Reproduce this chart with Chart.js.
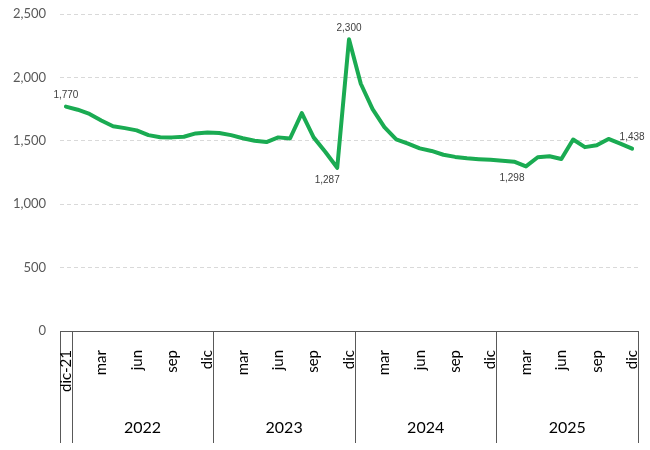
<!DOCTYPE html>
<html>
<head>
<meta charset="utf-8">
<script src="https://cdn.jsdelivr.net/npm/chart.js@4.4.0/dist/chart.umd.min.js"></script>
<style>
  html, body { margin: 0; padding: 0; background: #fff; }
  #wrap { width: 650px; height: 450px; }
</style>
</head>
<body>
<div id="wrap"><canvas id="chart"></canvas></div>
<script>
// categories
const monthNames = ['ene', 'feb', 'mar', 'abr', 'may', 'jun', 'jul', 'ago', 'sep', 'oct', 'nov', 'dic'];
const years = ['2022', '2023', '2024', '2025'];
const shownMonths = ['mar', 'jun', 'sep', 'dic'];
const firstLabel = 'dic-21';

// series values (monthly, dic-21 .. dic-25)
const values = [
    1770,
    1745, 1712, 1660, 1615, 1600, 1582, 1545, 1528, 1527, 1532, 1558, 1565,
    1562, 1545, 1520, 1500, 1490, 1527, 1518, 1718, 1527, 1412, 1287, 2300,
    1950, 1750, 1608, 1512, 1478, 1440, 1420, 1390, 1373, 1362, 1355, 1350,
    1343, 1335, 1298, 1370, 1378, 1356, 1510, 1450, 1465, 1515, 1478, 1438
];

// y ticks
const yTicks = [0, 500, 1000, 1500, 2000, 2500];

const labels = [firstLabel];
years.forEach(y => monthNames.forEach(m => labels.push(m)));

// which points get a value callout
const callouts = [
    { i: 0, above: true, dx: 0 },
    { i: 23, above: false, dx: -10 },
    { i: 24, above: true, dx: 0 },
    { i: 39, above: false, dx: -14 },
    { i: 48, above: true, dx: 0 }
];

const fmt = v => v.toLocaleString('en-US');

const axisPlugin = {
    id: 'axisPlugin',
    afterDraw(chart) {
        const { ctx, chartArea } = chart;
        const x = chart.scales.x;
        const y = chart.scales.y;
        const y0 = y.getPixelForValue(0);
        const half = (x.getPixelForValue(1) - x.getPixelForValue(0)) / 2;
        const bottom = y0 + 112;

        ctx.save();
        ctx.strokeStyle = '#595959';
        ctx.lineWidth = 1;
        ctx.beginPath();
        ctx.moveTo(chartArea.left, Math.round(y0) + 0.5);
        ctx.lineTo(chartArea.right, Math.round(y0) + 0.5);

        // separators: left edge, after dic-21, after each dic
        const bounds = [x.getPixelForValue(0) - half];
        [0, 12, 24, 36, 48].forEach(b => bounds.push(x.getPixelForValue(b) + half));
        bounds.forEach(bx => {
            const px = Math.round(bx) + 0.5;
            ctx.moveTo(px, y0);
            ctx.lineTo(px, bottom);
        });
        ctx.stroke();

        // month labels
        ctx.fillStyle = '#000';
        ctx.font = '15px Lato';
        ctx.textAlign = 'right';
        ctx.textBaseline = 'middle';
        labels.forEach((lab, i) => {
            if (i !== 0 && shownMonths.indexOf(lab) < 0) return;
            ctx.save();
            ctx.translate(x.getPixelForValue(i), y0 + 19);
            ctx.rotate(-Math.PI / 2);
            ctx.fillText(lab, 0, 0);
            ctx.restore();
        });

        // year labels
        ctx.font = '16px Lato';
        ctx.textAlign = 'center';
        years.forEach((yr, k) => {
            const cx = (bounds[k + 1] + bounds[k + 2]) / 2;
            ctx.fillText(yr, cx, y0 + 97);
        });

        // value callouts
        ctx.font = '10px "Liberation Sans"';
        ctx.fillStyle = '#404040';
        callouts.forEach(c => {
            const px = x.getPixelForValue(c.i) + c.dx;
            const py = y.getPixelForValue(values[c.i]) + (c.above ? -11 : 12);
            ctx.fillText(fmt(values[c.i]), px, py);
        });
        ctx.restore();
    }
};

new Chart(document.getElementById('chart').getContext('2d'), {
    type: 'line',
    data: {
        labels: labels,
        datasets: [{
            data: values,
            borderColor: '#1aab52',
            borderWidth: 4,
            borderJoinStyle: 'round',
            borderCapStyle: 'round',
            pointRadius: 0,
            tension: 0,
            fill: false
        }]
    },
    options: {
        responsive: true,
        maintainAspectRatio: false,
        animation: false,
        layout: { padding: { top: 14, right: 12, bottom: 119, left: 0 } },
        scales: {
            x: {
                type: 'category',
                offset: true,
                display: false
            },
            y: {
                min: 0,
                max: 2500,
                afterFit(scale) {
                    scale.width = 60;
                    scale.paddingTop = 0;
                    scale.paddingBottom = 0;
                },
                afterBuildTicks(scale) { scale.ticks = yTicks.map(v => ({ value: v })); },
                ticks: {
                    padding: 14,
                    color: '#595959',
                    font: { family: 'Lato', size: 13 },
                    callback: v => fmt(v)
                },
                grid: { color: '#d9d9d9', drawTicks: false },
                border: { display: false, dash: [4, 3] }
            }
        },
        plugins: {
            legend: { display: false },
            tooltip: { enabled: false }
        }
    },
    plugins: [axisPlugin]
});
</script>
</body>
</html>
